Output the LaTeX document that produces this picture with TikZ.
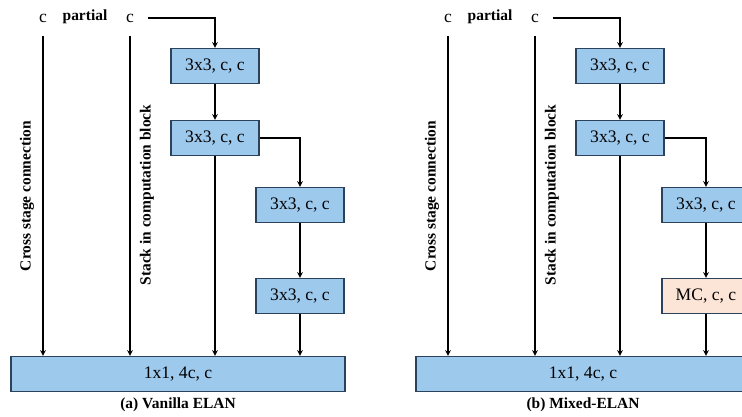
\documentclass[tikz,border=0pt]{standalone}
\usepackage{fontspec}
\setmainfont{Liberation Serif}
\definecolor{convblue}{RGB}{157,201,237}
\definecolor{mcpeach}{RGB}{252,228,214}
\definecolor{boxline}{RGB}{44,66,90}
\begin{document}
\begin{tikzpicture}[x=0.025cm,y=-0.025cm,>=stealth,line width=0.8pt,
	conv/.style={draw=boxline,fill=convblue,line width=1pt,minimum width=2.2cm,minimum height=0.875cm,font=\fontsize{12.5}{15}\selectfont},
	mc/.style={conv,fill=mcpeach},
	fuse/.style={conv,minimum width=8.35cm},
	chan/.style={minimum size=0.85cm,inner sep=0pt,font=\fontsize{12.5}{15}\selectfont},
	tag/.style={font=\fontsize{11}{13}\selectfont\bfseries},
	side/.style={tag,rotate=90}];
	\useasboundingbox (0,0) rectangle (742,416);
	\clip (0,0) rectangle (742,416);
	% (a) vanilla ELAN
	\node [chan] (ac1) at (43,18) {c};
	\node [tag] (apart) at (85,17) {partial};
	\node [chan] (ac2) at (130,18) {c};
	\node [conv] (ab1) at (215,66) {3x3, c, c};
	\node [conv] (ab2) at (215,138) {3x3, c, c};
	\node [conv] (ab3) at (300,205) {3x3, c, c};
	\node [conv] (ab4) at (300,296) {3x3, c, c};
	\node [fuse] (aout) at (178,374) {1x1, 4c, c};
	\node [side] (across) at (27,196) {Cross stage connection};
	\node [side] (astack) at (147,195) {Stack in computation block};
	\node [tag] (acap) at (178,405) {(a) Vanilla ELAN};
	\draw [->] (ac2.east) -| (ab1.north);
	\draw [->] (ab1.south)--(ab2.north);
	\draw [->] (ab2.east) -| (ab3.north);
	\draw [->] (ab3.south)--(ab4.north);
	\draw [->] (ac1.south)--(ac1 |- aout.north);
	\draw [->] (ac2.south)--(ac2 |- aout.north);
	\draw [->] (ab2.south)--(ab2 |- aout.north);
	\draw [->] (ab4.south)--(ab4 |- aout.north);
	% (b) mixed ELAN
	\node [chan] (bc1) at (448,18) {c};
	\node [tag] (bpart) at (490,17) {partial};
	\node [chan] (bc2) at (535,18) {c};
	\node [conv] (bb1) at (620,66) {3x3, c, c};
	\node [conv] (bb2) at (620,138) {3x3, c, c};
	\node [conv] (bb3) at (706,205) {3x3, c, c};
	\node [mc] (bb4) at (706,296) {MC, c, c};
	\node [fuse] (bout) at (583,374) {1x1, 4c, c};
	\node [side] (bcross) at (432,196) {Cross stage connection};
	\node [side] (bstack) at (552,195) {Stack in computation block};
	\node [tag] (bcap) at (583,405) {(b) Mixed-ELAN};
	\draw [->] (bc2.east) -| (bb1.north);
	\draw [->] (bb1.south)--(bb2.north);
	\draw [->] (bb2.east) -| (bb3.north);
	\draw [->] (bb3.south)--(bb4.north);
	\draw [->] (bc1.south)--(bc1 |- bout.north);
	\draw [->] (bc2.south)--(bc2 |- bout.north);
	\draw [->] (bb2.south)--(bb2 |- bout.north);
	\draw [->] (bb4.south)--(bb4 |- bout.north);
\end{tikzpicture}
\end{document}
